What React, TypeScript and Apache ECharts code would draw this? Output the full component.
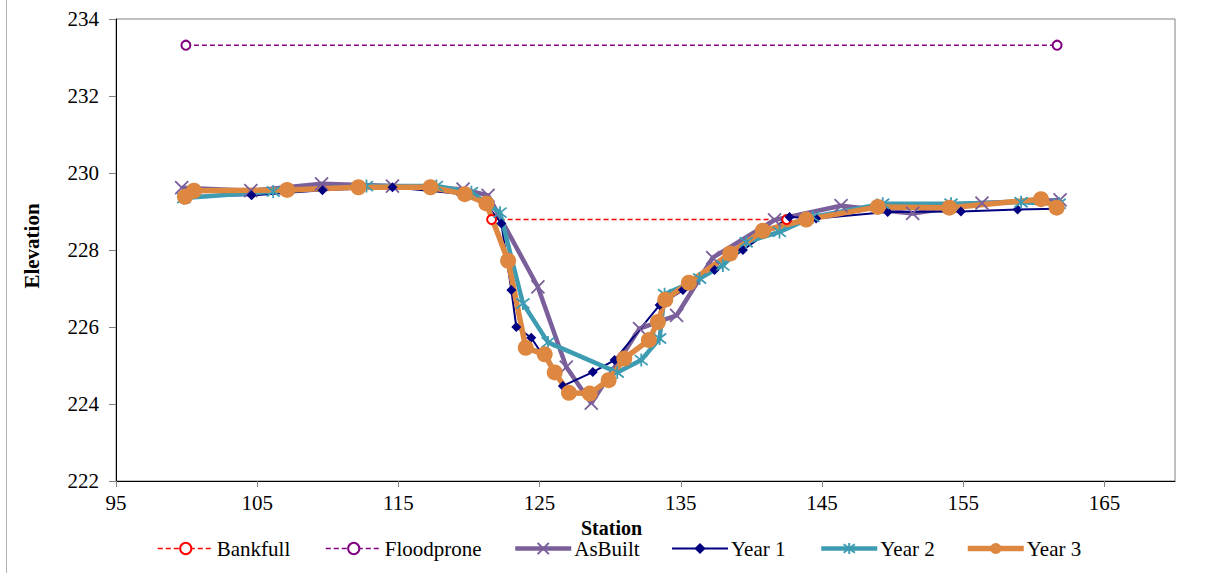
import React, { useEffect, useRef } from "react";
import * as echarts from "echarts";

const bankfull: number[][] = [[121.6, 228.79], [142.5, 228.79]];
const floodprone: number[][] = [[99.95, 233.32], [161.65, 233.32]];
const asBuilt: number[][] = [
  [99.65, 229.62], [104.55, 229.54], [109.56, 229.72], [114.58, 229.66], [119.58, 229.58],
  [121.35, 229.42], [124.88, 227.04], [126.89, 224.96], [128.66, 224.02], [132.08, 225.96],
  [134.7, 226.3], [137.26, 227.8], [141.64, 228.78], [146.35, 229.15], [151.42, 228.95],
  [156.33, 229.22], [161.86, 229.3],
];
const year1: number[][] = [
  [100.0, 229.4], [104.6, 229.42], [109.62, 229.55], [114.58, 229.63], [119.7, 229.45],
  [121.2, 229.2], [122.29, 228.69], [123.0, 226.96], [123.35, 226.0], [124.41, 225.72],
  [126.65, 224.47], [128.77, 224.83], [130.31, 225.14], [133.5, 226.57], [135.15, 226.96],
  [137.39, 227.48], [139.4, 228.0], [142.7, 228.86], [144.58, 228.82], [149.65, 228.99],
  [154.84, 229.0], [158.85, 229.05], [161.6, 229.07],
];
const year2: number[][] = [
  [99.8, 229.35], [106.13, 229.52], [112.74, 229.66], [117.69, 229.66], [120.17, 229.5],
  [122.2, 228.97], [123.82, 226.61], [125.6, 225.6], [130.5, 224.82], [132.2, 225.14],
  [133.5, 225.7], [133.85, 226.85], [136.33, 227.26], [137.98, 227.6], [139.63, 228.2],
  [141.99, 228.47], [144.35, 228.86], [149.3, 229.2], [154.14, 229.2], [159.1, 229.24],
  [161.8, 229.2],
];
const year3: number[][] = [
  [99.88, 229.38], [100.52, 229.54], [107.12, 229.56], [112.17, 229.63], [117.27, 229.63],
  [119.7, 229.45], [121.23, 229.21], [122.77, 227.72], [124.02, 225.46], [125.36, 225.29],
  [126.07, 224.82], [127.08, 224.29], [128.55, 224.27], [129.89, 224.62], [131.0, 225.18],
  [132.74, 225.66], [133.38, 226.13], [133.9, 226.71], [135.57, 227.15], [138.5, 227.91],
  [140.81, 228.5], [143.88, 228.79], [148.95, 229.12], [154.02, 229.1], [160.51, 229.32],
  [161.62, 229.1],
];

const seriesNames = ["Bankfull", "Floodprone", "AsBuilt", "Year 1", "Year 2", "Year 3"];
const legendLefts = [157, 325, 513, 671, 819, 965];
const legendLineWidths = [1.5, 1.5, 4.5, 2, 4.5, 5.5];

const FONT = "'Liberation Serif', 'Times New Roman', serif";
const CROSS = "path://M0 0L10 10M10 0L0 10";
const STAR = "path://M0 0L10 10M10 0L0 10M5 -1.5L5 11.5";

export default function App() {
  const ref = useRef<HTMLDivElement>(null);
  useEffect(() => {
    if (!ref.current) return;
    const chart = echarts.init(ref.current, undefined, { renderer: "svg" });
    const legends = seriesNames.map((n, i) => ({
      data: [n],
      left: legendLefts[i],
      top: 538,
      itemWidth: 56,
      itemHeight: 14,
      itemGap: 0,
      lineStyle: { width: legendLineWidths[i] },
      textStyle: { fontFamily: FONT, fontSize: 21, color: "#000", padding: [0, 0, 0, -2] },
      padding: 0,
    }));
    chart.setOption({
      animation: false,
      backgroundColor: "#fff",
      textStyle: { fontFamily: FONT },
      legend: legends,
      graphic: [
        { type: "line", shape: { x1: 6.5, y1: 0, x2: 6.5, y2: 573 }, style: { stroke: "#b0b0b0", lineWidth: 1 } },
      ],
      grid: {
        left: 116, top: 19, width: 1059, height: 462,
        show: true, borderColor: "#808080", borderWidth: 1,
      },
      xAxis: {
        type: "value", min: 95, max: 170, interval: 10,
        name: "Station", nameLocation: "middle", nameGap: 28,
        nameTextStyle: { fontFamily: FONT, fontSize: 20, fontWeight: "bold", color: "#000", padding: [0, 68, 0, 0] },
        axisLine: { show: true, onZero: false, lineStyle: { color: "#000", width: 1 } },
        axisTick: { show: true, inside: false, length: 6, lineStyle: { color: "#808080" } },
        axisLabel: { fontFamily: FONT, fontSize: 21, color: "#000", margin: 11, showMaxLabel: false },
        splitLine: { show: false },
      },
      yAxis: {
        type: "value", min: 222, max: 234, interval: 2,
        name: "Elevation", nameLocation: "middle", nameGap: 74, nameRotate: 90,
        nameTextStyle: { fontFamily: FONT, fontSize: 21, fontWeight: "bold", color: "#000", padding: [0, 0, 0, 8] },
        axisLine: { show: true, onZero: false, lineStyle: { color: "#000", width: 1 } },
        axisTick: { show: true, inside: false, length: 7, lineStyle: { color: "#808080" } },
        axisLabel: { fontFamily: FONT, fontSize: 21, color: "#000", margin: 17 },
        splitLine: { show: false },
      },
      series: [
        {
          name: "Bankfull", type: "line", data: bankfull,
          symbol: "emptyCircle", symbolSize: 9,
          lineStyle: { color: "#FF0000", width: 1.5, type: [5, 3] },
          itemStyle: { color: "#FF0000", borderColor: "#FF0000", borderWidth: 1.5 },
        },
        {
          name: "Floodprone", type: "line", data: floodprone,
          symbol: "emptyCircle", symbolSize: 9,
          lineStyle: { color: "#800080", width: 1.5, type: [5, 3] },
          itemStyle: { color: "#800080", borderColor: "#800080", borderWidth: 1.5 },
        },
        {
          name: "AsBuilt", type: "line", data: asBuilt,
          symbol: CROSS, symbolSize: 13,
          lineStyle: { color: "#7A5F9A", width: 4.5 },
          itemStyle: { color: "#7A5F9A", borderColor: "#7A5F9A", borderWidth: 1.8 },
        },
        {
          name: "Year 1", type: "line", data: year1,
          symbol: "diamond", symbolSize: 10,
          lineStyle: { color: "#000080", width: 2 },
          itemStyle: { color: "#000080" },
        },
        {
          name: "Year 2", type: "line", data: year2,
          symbol: STAR, symbolSize: 13,
          lineStyle: { color: "#3D9BB2", width: 4.5 },
          itemStyle: { color: "#3D9BB2", borderColor: "#3D9BB2", borderWidth: 1.8 },
        },
        {
          name: "Year 3", type: "line", data: year3,
          symbol: "circle", symbolSize: 16,
          lineStyle: { color: "#DD8740", width: 5.5 },
          itemStyle: { color: "#DD8740" },
        },
      ],
    });
    return () => chart.dispose();
  }, []);
  return <div ref={ref} style={{ position: "fixed", left: 0, top: 0, width: 1223, height: 573 }} />;
}
